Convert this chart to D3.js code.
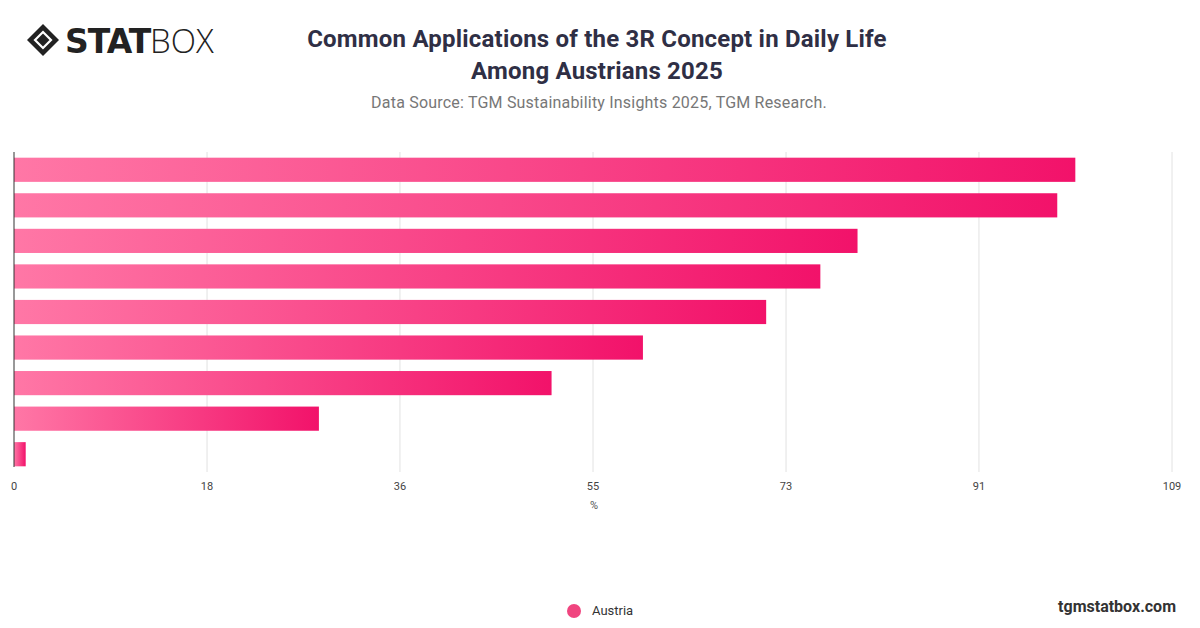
<!DOCTYPE html>
<html><head><meta charset="utf-8">
<script src="https://cdn.jsdelivr.net/npm/d3@7"></script>
<style>
body{margin:0;background:#fff;font-family:"Roboto","Liberation Sans",sans-serif;}
</style></head>
<body><svg id="chart" width="1200" height="628"></svg>
<script>
'use strict'
var categories = ["c1","c2","c3","c4","c5","c6","c7","c8","c9"];
var values = [99.9, 98.2, 79.4, 75.9, 70.8, 59.2, 50.6, 28.7, 1.1];
var ticks = [0, 18.17, 36.33, 54.5, 72.67, 90.83, 109];
var tickLabels = ["0","18","36","55","73","91","109"];

const svg = d3.select('#chart');
const defs = svg.append('defs');
const grad = defs.append('linearGradient').attr('id','bar').attr('x1','0').attr('x2','1');
grad.append('stop').attr('offset','0').attr('stop-color','#ff77a6');
grad.append('stop').attr('offset','1').attr('stop-color','#f2126a');

// logo
const logo = svg.append('g').attr('transform','translate(27,24)');
logo.append('path').attr('d','M0,16 L16,0 L32,16 L16,32 Z').attr('fill','#222');
logo.append('path').attr('d','M8,16 L16,8 L24,16 L16,24 Z').attr('fill','none').attr('stroke','#fff').attr('stroke-width',2.2);
logo.append('text').attr('x',38).attr('y',29).attr('font-size',33).attr('font-weight',900)
  .attr('font-family','"DejaVu Sans",sans-serif').attr('fill','#222').attr('letter-spacing',-1).text('STAT');
logo.append('text').attr('x',123).attr('y',29).attr('font-size',33).attr('font-weight',300)
  .attr('font-family','"Open Sans",sans-serif').attr('fill','#222').text('BOX');

svg.append('text').attr('x',597).attr('y',47).attr('text-anchor','middle').attr('font-size',24)
  .attr('font-weight',700).attr('fill','#2f2f45').attr('letter-spacing',0.2).text('Common Applications of the 3R Concept in Daily Life');
svg.append('text').attr('x',597).attr('y',79).attr('text-anchor','middle').attr('font-size',24)
  .attr('font-weight',700).attr('fill','#2f2f45').attr('letter-spacing',0.2).text('Among Austrians 2025');
svg.append('text').attr('x',599).attr('y',108).attr('text-anchor','middle').attr('font-size',16)
  .attr('fill','#777').attr('letter-spacing',0.2).text('Data Source: TGM Sustainability Insights 2025, TGM Research.');

const x = d3.scaleLinear().domain([0,109]).range([14,1172]);
const y = d3.scaleBand().domain(categories).range([152,472]).paddingInner(0.32).paddingOuter(0.16);

const g = svg.append('g');
g.selectAll('line.grid').data(ticks.slice(1)).enter().append('line')
  .attr('x1',d=>x(d)).attr('x2',d=>x(d)).attr('y1',152).attr('y2',472)
  .attr('stroke','#e2e2e2');
g.selectAll('rect').data(values).enter().append('rect')
  .attr('x',x(0)).attr('y',(d,i)=>y(categories[i])).attr('height',y.bandwidth())
  .attr('width',d=>x(d)-x(0)).attr('fill','url(#bar)');
g.append('line').attr('x1',14).attr('x2',14).attr('y1',152).attr('y2',467).attr('stroke','#333');

g.selectAll('text.tick').data(ticks).enter().append('text')
  .attr('x',d=>x(d)).attr('y',490).attr('text-anchor','middle').attr('font-size',11)
  .attr('fill','#444').text((d,i)=>tickLabels[i]);
svg.append('text').attr('x',594).attr('y',509).attr('text-anchor','middle').attr('font-size',11)
  .attr('fill','#555').text('%');

svg.append('circle').attr('cx',574).attr('cy',611).attr('r',7).attr('fill','#f0457f');
svg.append('text').attr('x',592).attr('y',615).attr('font-size',13).attr('fill','#333').text('Austria');
svg.append('text').attr('x',1176).attr('y',612).attr('text-anchor','end').attr('font-size',16)
  .attr('font-weight',700).attr('fill','#333').text('tgmstatbox.com');
</script></body></html>
